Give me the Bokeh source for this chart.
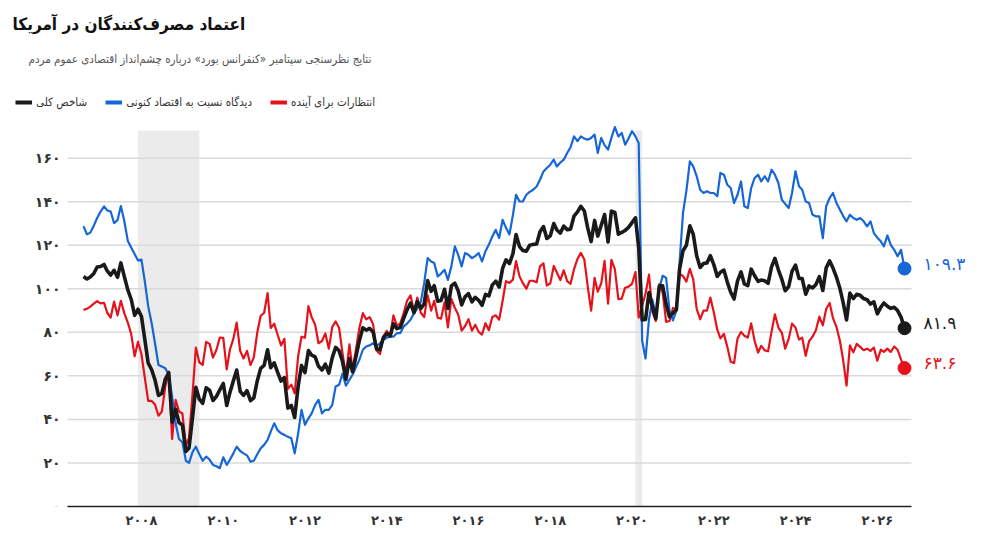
import pandas as pd
from bokeh.plotting import figure
from bokeh.models import (BoxAnnotation, CustomJSTickFormatter, FixedTicker,
                          Label, Legend, LegendItem, Range1d)
from bokeh.embed import file_html
from bokeh.resources import INLINE

FONT = "DejaVu Sans Condensed"
FONT_NUM = "DejaVu Sans"
FA = str.maketrans("0123456789", "۰۱۲۳۴۵۶۷۸۹")

# monthly index values (1985=100), Aug 2006 .. Sep 2026
first_month = "2006-08-01"

overall = [
    105.6, 104.5, 105.4, 107.0, 110.0,
    110.2, 111.2, 108.2, 106.3, 108.5, 105.3, 111.9, 105.6, 99.5, 95.2, 87.8, 90.6,   # 2007
    87.3, 76.4, 65.9, 62.8, 58.1, 51.0, 51.9, 58.5, 61.4, 38.8, 44.7, 38.6,           # 2008
    37.4, 25.3, 26.9, 40.8, 54.8, 49.3, 47.4, 54.5, 53.4, 48.7, 50.6, 53.6,           # 2009
    56.5, 46.4, 52.3, 57.7, 62.7, 52.9, 51.0, 53.2, 48.6, 49.9, 57.8, 63.4,           # 2010
    64.8, 72.0, 63.8, 66.0, 61.7, 57.6, 59.2, 45.2, 46.4, 40.9, 55.2, 64.8,           # 2011
    61.5, 71.6, 69.5, 68.7, 64.4, 62.7, 65.4, 61.3, 68.4, 73.1, 71.5, 66.7,           # 2012
    58.4, 68.0, 61.9, 69.0, 76.2, 82.1, 81.0, 81.8, 80.2, 72.4, 72.0, 77.5,           # 2013
    79.4, 78.3, 83.9, 81.7, 82.2, 86.4, 90.3, 93.4, 89.0, 94.1, 91.0, 93.1,           # 2014
    103.8, 98.8, 101.4, 94.3, 94.6, 99.8, 91.0, 101.3, 102.6, 99.1, 92.6, 96.3,       # 2015
    97.8, 94.0, 96.1, 94.7, 92.4, 97.4, 96.7, 101.8, 103.5, 100.8, 109.4, 113.3,      # 2016
    111.6, 116.1, 124.9, 119.4, 117.6, 117.3, 120.0, 120.4, 120.6, 126.2, 128.6, 123.1,  # 2017
    124.3, 130.0, 127.0, 125.6, 128.8, 127.1, 127.4, 133.4, 135.3, 137.9, 135.7, 128.1,  # 2018
    121.7, 131.4, 124.2, 129.2, 134.1, 121.5, 135.7, 135.1, 125.1, 125.9, 126.8, 128.2,  # 2019
    130.4, 132.6, 118.8, 85.7, 85.9, 98.3, 91.7, 86.3, 101.3, 101.4, 92.9, 87.1,      # 2020
    88.9, 90.4, 109.0, 117.5, 120.0, 128.9, 125.1, 115.2, 109.8, 111.6, 111.9, 115.2,  # 2021
    111.1, 105.7, 107.6, 108.6, 103.2, 98.4, 95.3, 103.6, 107.8, 102.2, 101.4, 109.0,  # 2022
    106.0, 103.4, 104.0, 103.7, 102.5, 110.1, 114.0, 108.7, 104.3, 99.1, 101.0, 108.0,  # 2023
    110.9, 104.8, 104.7, 97.5, 101.3, 100.4, 101.9, 105.6, 99.2, 109.6, 112.8, 109.5,  # 2024
    105.3, 100.1, 93.9, 85.7, 98.0, 95.5, 97.5, 97.0, 95.5, 95.0, 93.0, 94.0,         # 2025
    88.5, 91.5, 93.5, 92.0, 91.0, 91.5, 90.0, 87.0, 81.9,                             # 2026
]

present = [
    128.7, 125.0, 125.8, 129.0, 132.5,
    135.5, 137.8, 136.0, 135.5, 130.2, 131.5, 138.0, 131.0, 122.0, 119.0, 116.0, 113.0,
    113.4, 103.0, 92.0, 84.2, 75.0, 65.0, 64.3, 63.5, 60.5, 50.5, 38.2, 31.0,
    29.5, 21.0, 20.0, 25.0, 27.5, 24.0, 21.0, 22.9, 21.5, 19.1, 18.5, 17.6,
    22.6, 19.1, 21.5, 24.4, 27.5, 25.5, 24.4, 23.5, 20.6, 21.0, 24.0, 26.7,
    28.3, 30.6, 34.4, 38.2, 35.1, 33.6, 32.9, 32.0, 31.3, 24.4, 33.6, 44.4,
    37.5, 40.5, 42.8, 46.7, 49.0, 42.8, 44.4, 44.4, 46.7, 55.1, 55.9, 61.0,
    55.5, 58.2, 60.5, 64.0, 67.4, 72.0, 73.5, 74.0, 75.0, 73.5, 75.0, 76.6,
    77.5, 78.0, 78.0, 79.6, 79.6, 82.7, 84.0, 85.8, 88.8, 91.0, 94.1, 102.6,
    114.1, 112.5, 111.8, 105.7, 107.0, 108.7, 104.1, 110.3, 119.5, 115.6, 110.3, 116.4,
    115.6, 114.1, 115.0, 116.4, 112.6, 117.2, 120.3, 124.0, 127.1, 123.3, 131.7, 128.0,
    125.0, 133.9, 143.2, 140.1, 140.1, 143.2, 144.5, 145.5, 147.0, 150.1, 153.9, 155.5,
    157.0, 159.3, 156.2, 158.0, 159.3, 162.4, 165.0, 170.0, 167.8, 170.0, 169.0, 168.5,
    169.3, 170.8, 162.4, 169.3, 166.0, 163.9, 169.3, 174.3, 170.0, 171.6, 166.2, 169.0,
    172.4, 170.0, 166.9, 76.0, 68.0, 86.0, 95.0, 88.0, 100.0, 106.0, 105.0, 90.0,
    85.5, 90.0, 112.0, 135.0, 145.0, 158.5, 156.2, 151.7, 145.5, 144.0, 144.8, 144.0,
    144.0, 142.5, 153.2, 152.4, 147.8, 146.3, 139.4, 143.2, 149.3, 137.9, 137.1, 146.3,
    150.9, 152.4, 149.3, 151.7, 149.3, 154.7, 152.4, 148.6, 140.9, 139.0, 137.1, 144.0,
    154.0, 147.1, 145.5, 140.1, 139.4, 134.0, 133.3, 133.3, 123.3, 137.9, 141.7, 144.0,
    139.4, 136.3, 133.5, 131.0, 134.0, 132.5, 131.7, 132.5, 131.0, 128.7, 131.0, 125.6,
    123.5, 121.8, 119.5, 124.5, 120.2, 117.9, 114.9, 117.9, 109.3,
]

expectations = [
    90.3, 90.8, 91.8, 93.2, 94.3,
    93.3, 93.5, 89.0, 86.8, 94.1, 87.8, 94.5, 88.7, 84.5, 79.3, 69.0, 75.7,
    69.9, 58.7, 48.5, 48.5, 46.8, 41.7, 43.6, 55.2, 62.0, 31.0, 49.0, 43.7,
    42.7, 28.2, 31.5, 51.3, 73.0, 66.2, 65.0, 75.6, 74.7, 68.4, 72.0, 77.6,
    77.5, 63.0, 72.0, 77.0, 84.5, 71.5, 68.0, 71.5, 65.0, 68.5, 80.0, 87.5,
    89.0, 98.0, 82.0, 84.0, 79.0, 74.0, 77.0, 54.0, 56.0, 52.0, 69.0, 78.0,
    77.5, 92.0, 87.0, 83.5, 75.0, 76.0, 79.5, 72.5, 82.5, 85.0, 82.0, 70.5,
    60.3, 74.5, 62.8, 72.3, 82.0, 88.8, 86.0, 87.0, 83.7, 71.7, 70.0, 78.1,
    80.7, 78.5, 87.8, 83.1, 84.0, 88.8, 94.5, 97.0, 89.5, 96.0, 89.0, 87.0,
    97.0, 90.0, 94.5, 86.7, 86.3, 93.8, 82.3, 95.3, 91.3, 88.2, 80.8, 82.8,
    86.0, 80.7, 83.5, 80.2, 79.0, 84.2, 81.0, 87.0, 87.8, 85.8, 94.5, 103.5,
    102.7, 104.2, 112.7, 105.7, 102.6, 100.0, 103.7, 103.7, 103.0, 110.3, 111.7, 101.5,
    102.5, 110.5, 107.5, 104.0, 108.5, 103.5, 102.3, 109.0, 113.7, 116.5, 113.5, 101.2,
    90.0, 105.0, 98.7, 102.5, 112.8, 93.2, 113.3, 109.0, 95.2, 95.5, 100.5, 101.0,
    102.3, 107.7, 86.7, 92.2, 97.8, 106.5, 89.5, 85.2, 102.2, 98.3, 84.8, 85.2,
    91.2, 90.7, 107.0, 105.8, 103.3, 109.2, 104.3, 90.8, 86.0, 90.0, 90.0, 96.0,
    89.2, 81.2, 77.2, 79.3, 73.5, 66.5, 65.9, 77.2, 80.2, 78.4, 77.6, 84.1,
    76.0, 70.7, 73.8, 71.7, 71.3, 80.3, 88.3, 82.2, 79.8, 72.5, 77.0, 84.0,
    82.2, 76.7, 77.5, 69.2, 75.9, 78.0, 81.0, 87.2, 83.2, 90.7, 93.5, 86.5,
    82.5, 76.0, 67.5, 55.5, 74.0, 70.8, 74.7, 73.3, 71.8, 72.5, 71.5, 73.0,
    67.0, 72.0, 71.0, 72.5, 71.0, 73.5, 72.0, 67.5, 63.6,
]

recessions = [("2007-12-01", "2009-06-01"), ("2020-02-01", "2020-04-01")]
y_ticks = [0, 20, 40, 60, 80, 100, 120, 140, 160]
x_tick_years = [2008, 2010, 2012, 2014, 2016, 2018, 2020, 2022, 2024, 2026]

title = "اعتماد مصرف‌کنندگان در آمریکا"
subtitle = "نتایج نظرسنجی سپتامبر «کنفرانس بورد» درباره چشم‌انداز اقتصادی عموم مردم"
names = ["شاخص کلی", "دیدگاه نسبت به اقتصاد کنونی", "انتظارات برای آینده"]
colors = ["#1a1a1a", "#1766d6", "#e5121b"]


def ms(t):
    return pd.Timestamp(t).value / 1e6


DAY = 86400000
W, H = 998, 543
BOTTOM = 506            # pixel row of the zero line
PX_DAY = 0.111929       # horizontal pixels per day
PX_UNIT = 2.1771        # vertical pixels per index point

dates = pd.date_range(first_month, periods=len(overall), freq="MS")
assert len(present) == len(overall) == len(expectations)

# the frame fills the whole canvas above the x axis, so that titles, legend
# and end labels are drawn inside it; axis line and grid stop at x 67 .. 911
first, last = ms(dates[0]), ms(dates[-1])
x_range = Range1d(first - 83 / PX_DAY * DAY, last + (W - 904) / PX_DAY * DAY)
x_start = first - 16 / PX_DAY * DAY
axis_end = last + 7 / PX_DAY * DAY
y_range = Range1d(0, BOTTOM / PX_UNIT)
band_top = (BOTTOM - 130) / PX_UNIT

p = figure(width=W, height=H, x_axis_type="datetime",
           x_range=x_range, y_range=y_range,
           output_backend="svg", toolbar_location=None,
           min_border_left=0, min_border_right=0,
           min_border_top=0, min_border_bottom=H - BOTTOM)
p.outline_line_color = None
p.background_fill_color = "white"
p.border_fill_color = "white"

for start, end in recessions:
    p.add_layout(BoxAnnotation(left=ms(start), right=ms(end), bottom=0, top=band_top,
                               fill_color="#ebebeb", fill_alpha=1, line_alpha=0,
                               level="image"))

p.xgrid.visible = False
p.ygrid.visible = False
grid_y = y_ticks[1:]
p.segment(x0=[x_start] * len(grid_y), x1=[axis_end] * len(grid_y), y0=grid_y, y1=grid_y,
          line_color="#dadada", line_width=1.5, level="underlay")

fa_code = "return String(tick).replace(/[0-9]/g, d => '۰۱۲۳۴۵۶۷۸۹'[+d]);"
p.yaxis.fixed_location = x_start
p.yaxis.ticker = FixedTicker(ticks=y_ticks)
p.yaxis.formatter = CustomJSTickFormatter(code=fa_code)
p.yaxis.axis_line_color = None
p.yaxis.major_tick_line_color = None
p.yaxis.minor_tick_line_color = None
p.yaxis.major_label_standoff = 1
p.yaxis.major_label_text_font_size = "14px"

p.xaxis.ticker = FixedTicker(ticks=[ms(f"{y}-01-01") for y in x_tick_years])
p.xaxis.formatter = CustomJSTickFormatter(
    code="return String(new Date(tick).getUTCFullYear()).replace(/[0-9]/g, d => '۰۱۲۳۴۵۶۷۸۹'[+d]);")
p.xaxis.bounds = (x_start, axis_end)
p.xaxis.axis_line_color = "#222222"
p.xaxis.axis_line_width = 1.5
p.xaxis.major_tick_line_color = None
p.xaxis.minor_tick_line_color = None
p.xaxis.major_label_standoff = 0
p.xaxis.major_label_text_font_size = "13px"

for ax in (p.xaxis, p.yaxis):
    ax.major_label_text_font = FONT_NUM
    ax.major_label_text_font_style = "bold"
    ax.major_label_text_color = "#333333"

series = [overall, present, expectations]
widths = [3.6, 2.2, 2.2]
# red first, then blue, black on top
for i in (2, 1, 0):
    p.line(dates, series[i], line_color=colors[i], line_width=widths[i], line_join="round")

for i in (2, 1, 0):
    p.scatter([dates[-1]], [series[i][-1]], size=13, color=colors[i])
    p.add_layout(Label(x=last, y=series[i][-1], x_offset=19, y_offset=5,
                       text=f"{series[i][-1]:.1f}".translate(FA),
                       text_baseline="middle", text_align="left",
                       text_font=FONT_NUM, text_font_size="17px", text_color=colors[i]))

# legend swatches: one-point lines (nothing drawn in the plot), thick in the legend
items = []
for i in range(3):
    r = p.line([dates[-1]], [series[i][-1]], line_color=colors[i], line_width=4)
    items.append(LegendItem(label=names[i], renderers=[r]))
legend = Legend(items=items, orientation="horizontal", location=(15, BOTTOM - 110),
                spacing=18, padding=0, margin=0, glyph_width=17, glyph_height=16,
                label_height=16, label_standoff=4,
                label_text_font=FONT, label_text_font_size="11.5px",
                label_text_color="#333333",
                background_fill_alpha=0, border_line_alpha=0)
p.add_layout(legend)

p.add_layout(Label(x=x_range.start, y=y_range.end, x_offset=12, y_offset=-23,
                   text=title, text_baseline="middle", text_align="left",
                   text_font=FONT, text_font_style="bold", text_font_size="17px",
                   text_color="#111111"))
p.add_layout(Label(x=x_range.start, y=y_range.end, x_offset=28, y_offset=-58,
                   text=subtitle, text_baseline="middle", text_align="left",
                   text_font=FONT, text_font_size="11.5px", text_color="#555555"))

open("out.html", "w").write(file_html(p, INLINE))
